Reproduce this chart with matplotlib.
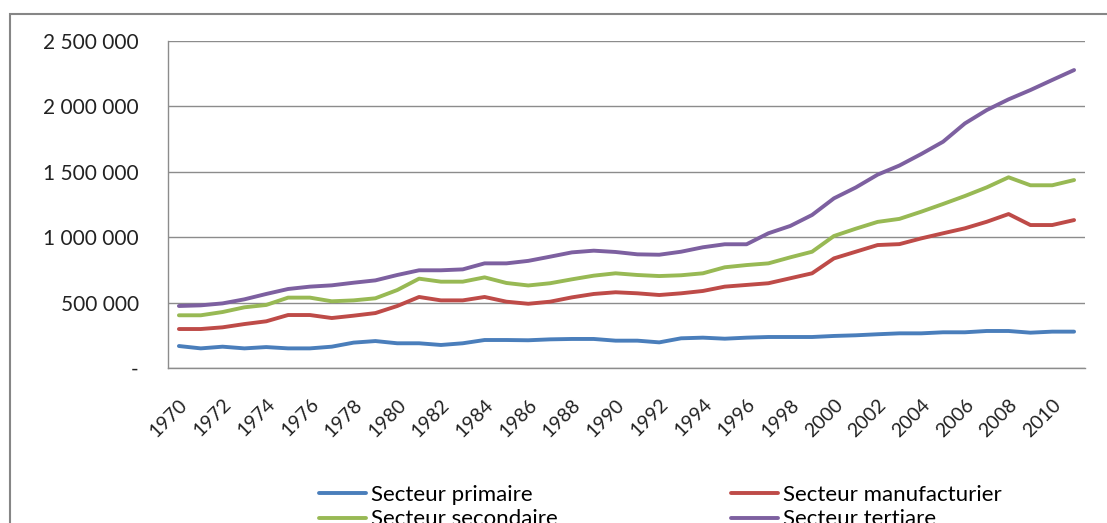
import matplotlib.pyplot as plt
from matplotlib.patches import Rectangle
from matplotlib.ticker import FuncFormatter

plt.rcParams['font.family'] = ['Lato', 'DejaVu Sans']

years = list(range(1970, 2012))

primaire = [168, 150, 163, 150, 160, 150, 150, 163, 194, 206,
            189, 189, 176, 189, 214, 214, 212, 219, 222, 222,
            209, 209, 196, 227, 232, 224, 232, 237, 237, 237,
            245, 250, 258, 265, 265, 273, 273, 283, 283, 270,
            278, 278]
manufacturier = [298, 298, 311, 336, 357, 405, 405, 382, 400, 420,
                 474, 543, 517, 517, 543, 507, 491, 507, 540, 566,
                 579, 571, 558, 571, 589, 622, 635, 648, 686, 724,
                 838, 889, 940, 947, 991, 1030, 1068, 1118, 1177, 1093,
                 1093, 1131]
secondaire = [403, 403, 428, 464, 482, 538, 538, 510, 517, 533,
              596, 683, 660, 660, 693, 650, 631, 648, 678, 706,
              724, 711, 703, 709, 724, 770, 787, 800, 846, 889,
              1009, 1065, 1117, 1140, 1195, 1254, 1315, 1381, 1458, 1397,
              1397, 1437]
tertiaire = [474, 479, 494, 525, 566, 604, 622, 632, 652, 670,
             711, 747, 747, 754, 800, 800, 819, 851, 884, 897,
             887, 869, 866, 889, 923, 946, 946, 1030, 1086, 1170,
             1297, 1380, 1478, 1548, 1636, 1730, 1870, 1972, 2054, 2125,
             2202, 2278]

labels = ['Secteur primaire', 'Secteur manufacturier',
          'Secteur secondaire', 'Secteur tertiare']
colors = ['#4A7EBB', '#BE4B48', '#98B954', '#7D60A0']
series = [primaire, manufacturier, secondaire, tertiaire]

fig = plt.figure(figsize=(11.07, 5.23), dpi=100)
# outer chart frame, running off the right and bottom edges
fig.patches.append(Rectangle((10 / 1107, -0.2), 1.2, 1.2 - 14 / 523,
                             transform=fig.transFigure, fill=False,
                             edgecolor='#868686', linewidth=1.5))

ax = fig.add_axes([168 / 1107, 1 - 368 / 523, 917 / 1107, 327 / 523])
x = list(range(len(years)))
lines = {}
for lab, col, vals in zip(labels, colors, series):
    lines[lab], = ax.plot(x, [v * 1000 for v in vals], color=col, lw=2.8,
                          solid_capstyle='round', label=lab)

ax.set_xlim(-0.5, len(years) - 0.5)
ax.set_ylim(0, 2500000)
ax.set_yticks(range(0, 2500001, 500000))
ax.yaxis.set_major_formatter(FuncFormatter(
    lambda v, p: '-' if v == 0 else f'{int(v):,}'.replace(',', ' ')))
ax.set_xticks(x[::2])
ax.set_xticklabels([str(y) for y in years[::2]], rotation=45, ha='right',
                   rotation_mode='anchor')
ax.tick_params(axis='both', length=0, colors='#222222')
ax.tick_params(axis='y', pad=21, labelsize=15)
ax.tick_params(axis='x', pad=20, labelsize=14)
ax.grid(axis='y', color='#8c8c8c', lw=1)
ax.set_axisbelow(True)
for s in ['top', 'right']:
    ax.spines[s].set_visible(False)
for s in ['left', 'bottom']:
    ax.spines[s].set_color('#8c8c8c')
    ax.spines[s].set_linewidth(1)

order = ['Secteur primaire', 'Secteur secondaire',
         'Secteur manufacturier', 'Secteur tertiare']
fig.legend([lines[k] for k in order], order, ncol=2, frameon=False,
           loc='upper left', bbox_to_anchor=(310 / 1107, 1 - 476 / 523),
           fontsize=16, handlelength=2.1, handletextpad=0.25,
           columnspacing=7.8, labelspacing=0.2, borderaxespad=0)

fig.savefig('out.png', dpi=100)
